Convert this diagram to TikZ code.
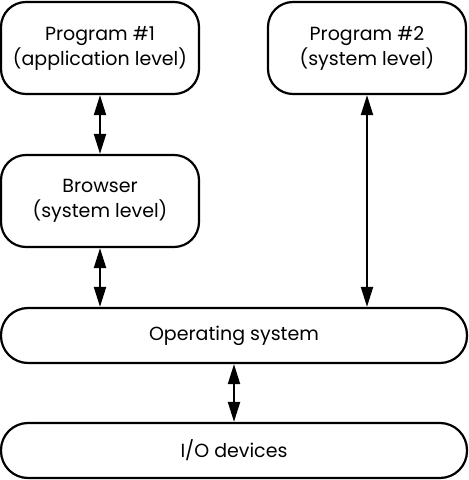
\documentclass[tikz,border=0pt]{standalone}
\usepackage{fontspec}
\setmainfont{Poppins}
\usetikzlibrary{positioning,arrows.meta,calc}

\begin{document}
\begin{tikzpicture}[x=1pt,y=1pt,
    box/.style={draw, line width=2.2pt, rounded corners=25pt, align=center,
      minimum width=198pt, minimum height=92pt, inner sep=0pt,
      font=\fontsize{19}{25}\selectfont},
    layer/.style={box, rounded corners=27pt, minimum width=466pt, minimum height=55pt},
    link/.style={line width=2pt, {Triangle[length=20pt,width=12pt]}-{Triangle[length=20pt,width=12pt]}}]
  \useasboundingbox (0,0) rectangle (469,480);
  \def\lx{100} % column of the left boxes
  \def\rx{367} % column of the right box
  % boxes
  \node[box] (prog1) at (\lx,432) {Program \#1\\(application level)};
  \node[box] (prog2) at (\rx,432) {Program \#2\\(system level)};
  \node[box] (browser) at (\lx,279) {Browser\\(system level)};
  \node[layer] (os) at (234,144.5) {Operating system};
  \node[layer] (io) at (234,29.5) {I/O devices};
  % connectors
  \draw[link] (prog1) -- (browser);
  \draw[link] (browser.south) -- (browser.south |- os.north);
  \draw[link] (prog2.south) -- (prog2.south |- os.north);
  \draw[link] (os) -- (io);
\end{tikzpicture}
\end{document}
